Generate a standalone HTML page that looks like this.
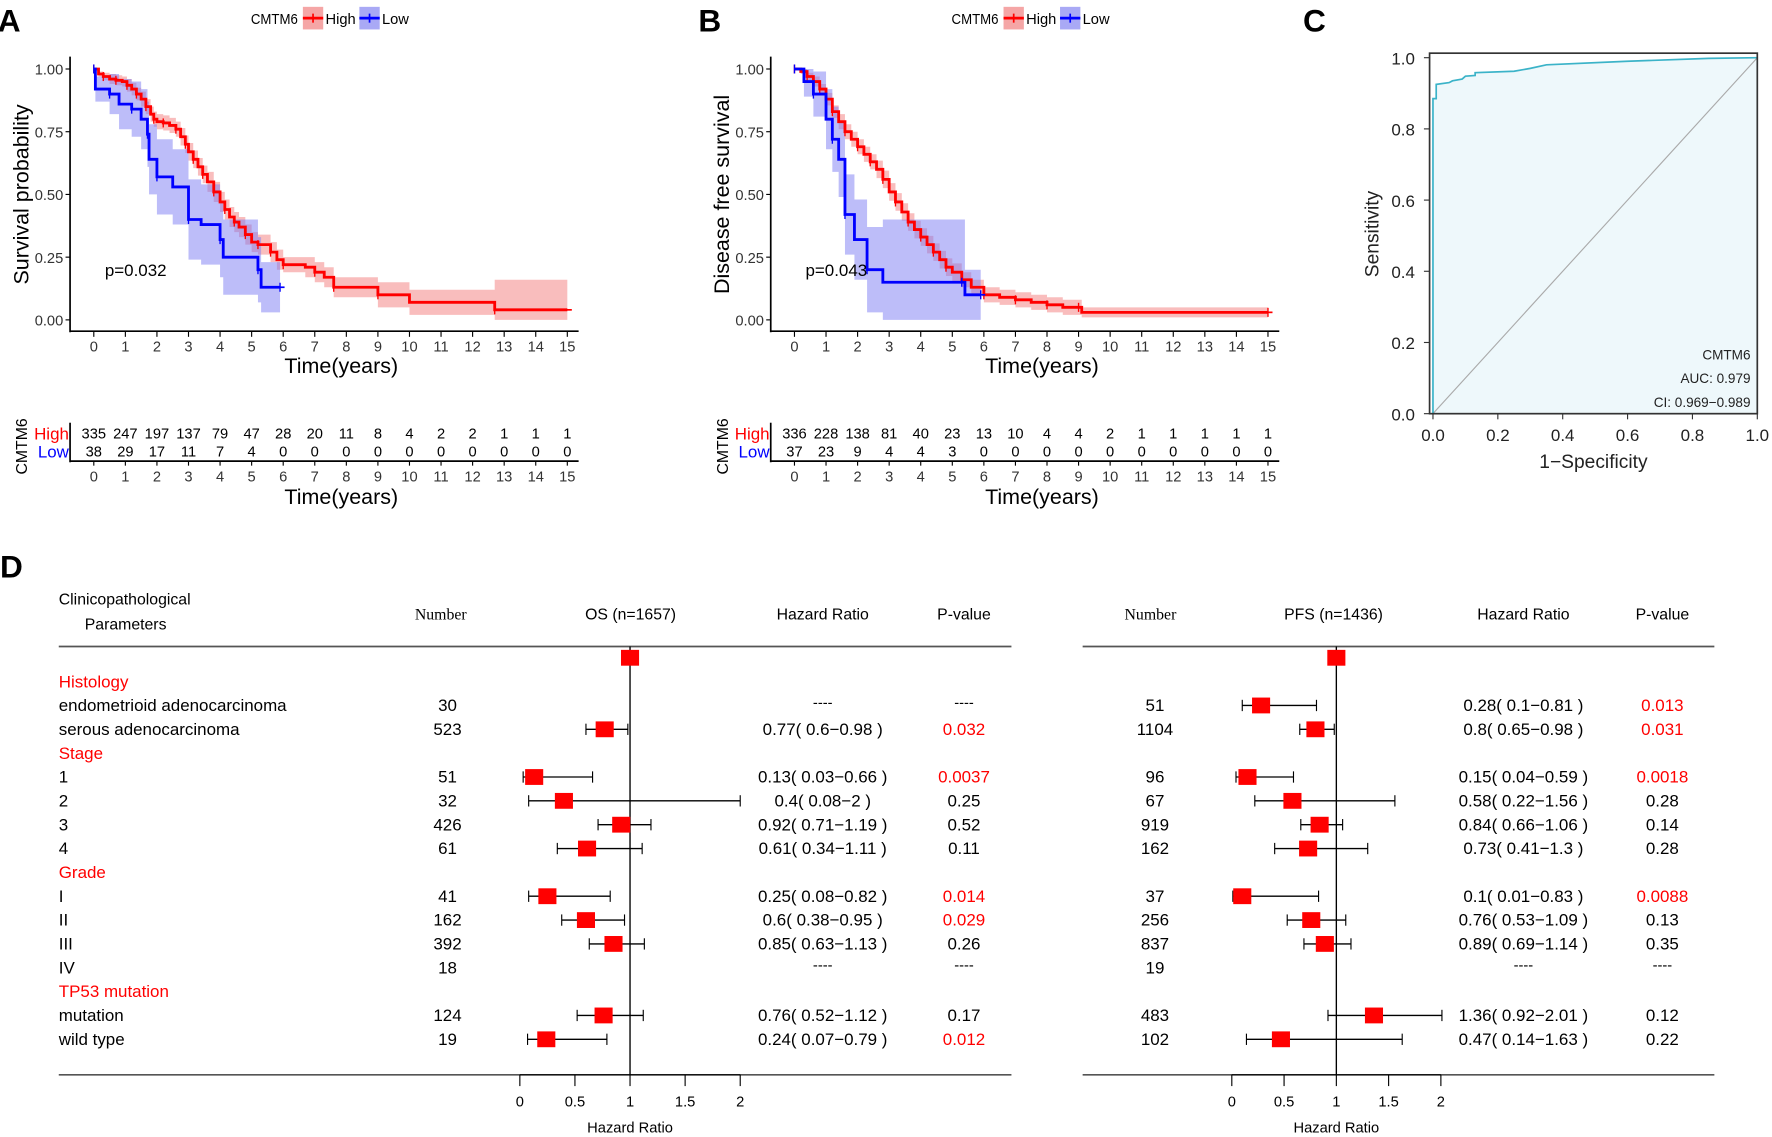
<!DOCTYPE html>
<html><head><meta charset="utf-8">
<style>
html,body{margin:0;padding:0;background:#fff;}
svg{display:block;font-family:"Liberation Sans",Arial,sans-serif;}
</style></head>
<body>
<svg id="fig" width="1772" height="1137" viewBox="0 0 1568 1006" xmlns="http://www.w3.org/2000/svg"></svg>
<script>
// ---------- DATA ----------
const kmYearTicks=[0,1,2,3,4,5,6,7,8,9,10,11,12,13,14,15];
const kmProbTicks=[0,0.25,0.5,0.75,1];
const aHighT=[0,0.15,0.3,0.5,0.7,0.9,1.05,1.2,1.35,1.5,1.65,1.8,1.9,2,2.2,2.4,2.6,2.75,2.9,3,3.15,3.3,3.45,3.6,3.8,4,4.15,4.3,4.45,4.6,4.8,5,5.2,5.4,5.6,5.8,6,6.7,7,7.3,7.6,8.8,9,10,12.7,15];
const aHighS=[1,0.98,0.97,0.96,0.955,0.95,0.935,0.92,0.9,0.88,0.85,0.82,0.8,0.79,0.785,0.775,0.76,0.73,0.7,0.67,0.64,0.61,0.58,0.55,0.51,0.47,0.44,0.41,0.39,0.37,0.34,0.31,0.3,0.3,0.27,0.24,0.22,0.21,0.19,0.17,0.13,0.13,0.1,0.07,0.04,0.04];
const aHighW=[0,0.01,0.015,0.02,0.02,0.02,0.025,0.025,0.025,0.03,0.03,0.03,0.03,0.03,0.03,0.03,0.03,0.035,0.035,0.035,0.035,0.035,0.035,0.04,0.04,0.04,0.04,0.04,0.04,0.04,0.04,0.04,0.04,0.04,0.04,0.04,0.03,0.04,0.04,0.04,0.04,0.04,0.05,0.05,0.12,0.12];
const aLowT=[0,0.05,0.5,0.8,1.2,1.5,1.7,1.75,2,2.5,3,3.4,4,4.1,5.2,5.3,5.9];
const aLowS=[1,0.92,0.9,0.86,0.84,0.8,0.74,0.64,0.57,0.53,0.4,0.38,0.32,0.25,0.2,0.13,0.13];
const aLowW=[0,0.05,0.08,0.1,0.11,0.12,0.13,0.14,0.15,0.15,0.16,0.16,0.15,0.15,0.13,0.1,0.1];
const bHighT=[0,0.2,0.4,0.6,0.8,1,1.2,1.4,1.6,1.8,2,2.2,2.4,2.6,2.8,3,3.2,3.4,3.6,3.8,4,4.2,4.4,4.6,4.8,5,5.3,5.6,6,6.5,7,7.5,8,8.5,9,9.1,15];
const bHighS=[1,0.99,0.97,0.95,0.92,0.88,0.83,0.79,0.75,0.72,0.69,0.66,0.63,0.6,0.56,0.51,0.47,0.43,0.39,0.36,0.33,0.3,0.27,0.24,0.21,0.19,0.16,0.13,0.1,0.09,0.08,0.07,0.06,0.05,0.05,0.03,0.03];
const bHighW=[0,0.01,0.015,0.02,0.02,0.025,0.025,0.03,0.03,0.03,0.03,0.03,0.03,0.035,0.035,0.035,0.035,0.035,0.035,0.035,0.035,0.035,0.035,0.035,0.035,0.035,0.03,0.03,0.03,0.03,0.03,0.03,0.03,0.03,0.03,0.02,0.02];
const bLowT=[0,0.3,0.6,1,1.2,1.4,1.6,1.9,2.3,2.8,5.3,5.4,5.9];
const bLowS=[1,0.95,0.9,0.8,0.72,0.64,0.42,0.32,0.2,0.15,0.15,0.1,0.1];
const bLowW=[0,0.06,0.09,0.12,0.13,0.15,0.16,0.16,0.17,0.25,0.25,0.1,0.1];
const aRiskHigh=[335,247,197,137,79,47,28,20,11,8,4,2,2,1,1,1];
const aRiskLow=[38,29,17,11,7,4,0,0,0,0,0,0,0,0,0,0];
const bRiskHigh=[336,228,138,81,40,23,13,10,4,4,2,1,1,1,1,1];
const bRiskLow=[37,23,9,4,4,3,0,0,0,0,0,0,0,0,0,0];
const rocTicks=[0,0.2,0.4,0.6,0.8,1.0];
const rocFpr=[0,0,0.01,0.01,0.05,0.06,0.09,0.1,0.13,0.13,0.25,0.3,0.35,0.6,0.85,1];
const rocTpr=[0,0.885,0.885,0.925,0.93,0.935,0.94,0.948,0.95,0.958,0.962,0.97,0.98,0.99,0.998,1];
const forestLabels=["","Histology","endometrioid adenocarcinoma","serous adenocarcinoma","Stage","1","2","3","4","Grade","I","II","III","IV","TP53 mutation","mutation","wild type"];
const forestIsHeader=[0,1,0,0,1,0,0,0,0,1,0,0,0,0,1,0,0];
const osN=["","","30","523","","51","32","426","61","","41","162","392","18","","124","19"];
const osHR=[1,null,null,0.77,null,0.13,0.4,0.92,0.61,null,0.25,0.6,0.85,null,null,0.76,0.24];
const osLo=[1,null,null,0.6,null,0.03,0.08,0.71,0.34,null,0.08,0.38,0.63,null,null,0.52,0.07];
const osHi=[1,null,null,0.98,null,0.66,2,1.19,1.11,null,0.82,0.95,1.13,null,null,1.12,0.79];
const osP=["","","----","0.032","","0.0037","0.25","0.52","0.11","","0.014","0.029","0.26","----","","0.17","0.012"];
const pfsN=["","","51","1104","","96","67","919","162","","37","256","837","19","","483","102"];
const pfsHR=[1,null,0.28,0.8,null,0.15,0.58,0.84,0.73,null,0.1,0.76,0.89,null,null,1.36,0.47];
const pfsLo=[1,null,0.1,0.65,null,0.04,0.22,0.66,0.41,null,0.01,0.53,0.69,null,null,0.92,0.14];
const pfsHi=[1,null,0.81,0.98,null,0.59,1.56,1.06,1.3,null,0.83,1.09,1.14,null,null,2.01,1.63];
const pfsP=["","","0.013","0.031","","0.0018","0.28","0.14","0.28","","0.0088","0.13","0.35","----","","0.12","0.22"];
const hrTicks=[0,0.5,1,1.5,2];

// ---------- HELPERS ----------
const NS="http://www.w3.org/2000/svg";
const svg=document.getElementById('fig');
function mk(tag,attrs,parent,txt){const e=document.createElementNS(NS,tag);for(const k in attrs)e.setAttribute(k,attrs[k]);if(txt!==undefined)e.textContent=txt;(parent||svg).appendChild(e);return e;}
function grp(name){const g=mk('g',{});return g;}
function txt(g,x,y,s,size,anchor,fill,name,extra){const t=mk('text',Object.assign({x:x,y:y,'font-size':size,'text-anchor':anchor||'start',fill:fill||'#000'},extra||{}),g,s);return t;}

// ---------- KM PANEL ----------
function kmPanel(ox,label,ylab,pTxt,hT,hS,hW,lT,lS,lW,rH,rL,legendX){
  const g=grp('km-panel-'+label.toLowerCase());
  txt(g,ox-2,28,label,28,'start','#000','panel-label-'+label.toLowerCase(),{'font-weight':'bold'});
  const ax=ox+62, x0=ox+83, xs=(502-83)/15, y0=283, ys=(283-61);
  const X=t=>x0+t*xs, Y=s=>y0-s*ys;
  const lg=grp('legend');g.appendChild(lg);
  txt(lg,legendX,21,'CMTM6',13,'start','#000','legend-title',{transform:`translate(${legendX},0) scale(0.9,1) translate(${-legendX},0)`});
  const r1=mk('rect',{x:legendX+46,y:6,width:18,height:20,fill:'#f5a6a6'},lg);
  mk('line',{x1:legendX+46,x2:legendX+64,y1:16,y2:16,stroke:'#f00','stroke-width':2.5},lg);
  mk('line',{x1:legendX+55,x2:legendX+55,y1:12,y2:20,stroke:'#f00','stroke-width':1.5},lg);
  txt(lg,legendX+66,21,'High',13,'start','#000','legend-high');
  const r2=mk('rect',{x:legendX+96,y:6,width:18,height:20,fill:'#a9a9f5'},lg);
  mk('line',{x1:legendX+96,x2:legendX+114,y1:16,y2:16,stroke:'#00f','stroke-width':2.5},lg);
  mk('line',{x1:legendX+105,x2:legendX+105,y1:12,y2:20,stroke:'#00f','stroke-width':1.5},lg);
  txt(lg,legendX+116,21,'Low',13,'start','#000','legend-low');
  function band(T,S,W,col,name){
    let up='',dn='';
    for(let i=0;i<T.length;i++){const xa=X(T[i]),xb=X(i+1<T.length?T[i+1]:T[i]);
      up+=`${xa},${Y(Math.min(1,S[i]+W[i]))} ${xb},${Y(Math.min(1,S[i]+W[i]))} `;}
    for(let i=T.length-1;i>=0;i--){const xa=X(T[i]),xb=X(i+1<T.length?T[i+1]:T[i]);
      dn+=`${xb},${Y(Math.max(0,S[i]-W[i]))} ${xa},${Y(Math.max(0,S[i]-W[i]))} `;}
    const p=mk('polygon',{points:up+dn,fill:col,'fill-opacity':0.5},g);
  }
  function step(T,S,col,name){
    let d=`M${X(T[0])},${Y(S[0])}`;
    for(let i=1;i<T.length;i++){d+=` H${X(T[i])} V${Y(S[i])}`;}
    const p=mk('path',{d:d,fill:'none',stroke:col,'stroke-width':2.5},g);
    for(let i=0;i<T.length;i+=2){mk('line',{x1:X(T[i]),x2:X(T[i]),y1:Y(S[i])-4,y2:Y(S[i])+4,stroke:col,'stroke-width':1.2},g);}
    mk('line',{x1:X(T[T.length-1])-4,x2:X(T[T.length-1])+4,y1:Y(S[S.length-1]),y2:Y(S[S.length-1]),stroke:col,'stroke-width':1.5},g);
  }
  band(hT,hS,hW,'#f37b7b','high-ci-band');
  band(lT,lS,lW,'#7b7bf3','low-ci-band');
  step(hT,hS,'#f00','high-curve');
  step(lT,lS,'#00f','low-curve');
  mk('line',{x1:ax,x2:ax,y1:50,y2:294,stroke:'#000','stroke-width':1.5},g);
  mk('line',{x1:ax,x2:ox+512,y1:293,y2:293,stroke:'#000','stroke-width':1.5},g);
  kmYearTicks.forEach(t=>{mk('line',{x1:X(t),x2:X(t),y1:293,y2:298,stroke:'#000'},g);txt(g,X(t),311,String(t),13,'middle','#333','x-tick-label');});
  kmProbTicks.forEach(s=>{mk('line',{x1:ax-4,x2:ax,y1:Y(s),y2:Y(s),stroke:'#000'},g);txt(g,ax-6,Y(s)+5,s.toFixed(2),13,'end','#333','y-tick-label');});
  txt(g,ox+302,330,'Time(years)',19,'middle','#000','x-axis-title');
  txt(g,0,0,ylab,19,'middle','#000','y-axis-title',{transform:`translate(${ox+25},172) rotate(-90)`});
  txt(g,X(0.35),244,pTxt,15,'start','#000','p-value');
  const rg=grp('risk-table');g.appendChild(rg);
  txt(rg,0,0,'CMTM6',14,'middle','#000','risk-table-title',{transform:`translate(${ox+24},395) rotate(-90)`});
  txt(rg,ax-1,389,'High',15,'end','#f00','risk-high-label');
  txt(rg,ax-1,405,'Low',15,'end','#00f','risk-low-label');
  kmYearTicks.forEach((t,i)=>{txt(rg,X(t),388,String(rH[i]),13,'middle','#000','risk-high-count');txt(rg,X(t),404,String(rL[i]),13,'middle','#000','risk-low-count');
    mk('line',{x1:X(t),x2:X(t),y1:408,y2:412,stroke:'#000'},rg);txt(rg,X(t),426,String(t),13,'middle','#333','risk-x-tick-label');});
  mk('line',{x1:ax,x2:ax,y1:374,y2:409,stroke:'#000','stroke-width':1.5},rg);
  mk('line',{x1:ax,x2:ox+512,y1:408,y2:408,stroke:'#000','stroke-width':1.5},rg);
  txt(rg,ox+302,446,'Time(years)',19,'middle','#000','risk-x-axis-title');
}
kmPanel(0,'A','Survival probability','p=0.032',aHighT,aHighS,aHighW,aLowT,aLowS,aLowW,aRiskHigh,aRiskLow,222);
kmPanel(620,'B','Disease free survival','p=0.043',bHighT,bHighS,bHighW,bLowT,bLowS,bLowW,bRiskHigh,bRiskLow,842);

// ---------- ROC ----------
(function(){
  const g=grp('roc-panel');
  txt(g,1153,28,'C',28,'start','#000','panel-label-c',{'font-weight':'bold'});
  const x0=1268,x1=1555,y0=366,y1=51;
  const X=v=>x0+v*(x1-x0), Y=v=>y0-v*(y0-y1);
  let pts=`${X(0)},${Y(0)} `;rocFpr.forEach((f,i)=>pts+=`${X(f)},${Y(rocTpr[i])} `);pts+=`${X(1)},${Y(0)}`;
  const a=mk('polygon',{points:pts,fill:'#eef8fb'},g);
  const d=mk('line',{x1:X(0),y1:Y(0),x2:X(1),y2:Y(1),stroke:'#aaa','stroke-width':1},g);
  let dd='';rocFpr.forEach((f,i)=>dd+=(i?' L':'M')+X(f)+','+Y(rocTpr[i]));
  const c=mk('path',{d:dd,fill:'none',stroke:'#3bb3c8','stroke-width':1.5},g);
  mk('rect',{x:1265,y:47,width:290,height:319,fill:'none',stroke:'#333','stroke-width':1.5},g);
  rocTicks.forEach(v=>{mk('line',{x1:1260,x2:1265,y1:Y(v),y2:Y(v),stroke:'#333'},g);txt(g,1252,Y(v)+6,v.toFixed(1),15,'end','#222','roc-y-tick-label');
    mk('line',{x1:X(v),x2:X(v),y1:366,y2:371,stroke:'#333'},g);txt(g,X(v),390,v.toFixed(1),15,'middle','#222','roc-x-tick-label');});
  txt(g,1410,414,'1\u2212Specificity',17,'middle','#222','roc-x-axis-title');
  txt(g,0,0,'Sensitivity',17,'middle','#222','roc-y-axis-title',{transform:'translate(1220,207) rotate(-90)'});
  txt(g,1549,318,'CMTM6',12,'end','#222','roc-legend-name');
  txt(g,1549,339,'AUC: 0.979',12,'end','#222','roc-legend-auc');
  txt(g,1549,360,'CI: 0.969\u22120.989',12,'end','#222','roc-legend-ci');
})();

// ---------- FOREST ----------
const rowY=i=>582+i*21.1;
(function(){
  const g=grp('forest-panel');
  txt(g,0,511,'D',28,'start','#000','panel-label-d',{'font-weight':'bold'});
  txt(g,52,535,'Clinicopathological',14,'start','#000','header-parameters');
  txt(g,75,557,'Parameters',14,'start','#000','header-parameters-2');
  forestLabels.forEach((l,i)=>{if(l)txt(g,52,rowY(i)+5,l,15,'start',forestIsHeader[i]?'#f00':'#000',forestIsHeader[i]?'group-label':'row-label');});
  function forest(x0,unit,lineL,lineR,numX,hrX,pX,N,HR,LO,HI,P,title,titleX,numHX){
    const X=v=>x0+v*unit;
    txt(g,numHX,548,'Number',14,'middle','#000','header-number',{'font-family':'Liberation Serif, serif'});
    txt(g,titleX,548,title,14,'middle','#000','header-title');
    txt(g,hrX,548,'Hazard Ratio',14,'middle','#000','header-hazard-ratio');
    txt(g,pX,548,'P-value',14,'middle','#000','header-p-value');
    mk('line',{x1:lineL,x2:lineR,y1:572,y2:572,stroke:'#555','stroke-width':1.5},g);
    mk('line',{x1:lineL,x2:lineR,y1:951,y2:951,stroke:'#555','stroke-width':1.5},g);
    mk('line',{x1:X(1),x2:X(1),y1:572,y2:951,stroke:'#000','stroke-width':1.2},g);
    hrTicks.forEach(t=>{mk('line',{x1:X(t),x2:X(t),y1:951,y2:961,stroke:'#000'},g);txt(g,X(t),979,String(t),13,'middle','#000','hr-tick-label');});
    mk('line',{x1:X(0),x2:X(2),y1:951,y2:951,stroke:'#000'},g);
    txt(g,X(1),1002,'Hazard Ratio',13,'middle','#000','hr-axis-title');
    N.forEach((n,i)=>{const y=rowY(i);
      if(n)txt(g,numX,y+5,n,15,'middle','#000','row-number');
      if(HR[i]!==null){
        if(LO[i]!==HI[i]){const l=mk('line',{x1:X(LO[i]),x2:X(HI[i]),y1:y,y2:y,stroke:'#000','stroke-width':1.2},g);
          mk('line',{x1:X(LO[i]),x2:X(LO[i]),y1:y-5,y2:y+5,stroke:'#000'},g);mk('line',{x1:X(HI[i]),x2:X(HI[i]),y1:y-5,y2:y+5,stroke:'#000'},g);}
        const r=mk('rect',{x:X(HR[i])-8,y:y-7,width:16,height:14,fill:'#f00'},g);
        if(i>0)txt(g,hrX,y+5,`${HR[i]}( ${LO[i]}\u2212${HI[i]} )`,15,'middle','#000','hr-value');
      } else if(P[i]==='----'){txt(g,hrX,y+2,'----',13,'middle','#000','hr-value');}
      if(P[i]){const red=P[i]!=='----'&&parseFloat(P[i])<0.05;txt(g,pX,y+(P[i]==='----'?2:5),P[i],P[i]==='----'?13:15,'middle',red?'#f00':'#000','p-value');}
    });
  }
  forest(460,97.5,52,895,396,728,853,osN,osHR,osLo,osHi,osP,'OS (n=1657)',558,390);
  forest(1090,92.5,958,1517,1022,1348,1471,pfsN,pfsHR,pfsLo,pfsHi,pfsP,'PFS (n=1436)',1180,1018);
})();
</script>
</body></html>
